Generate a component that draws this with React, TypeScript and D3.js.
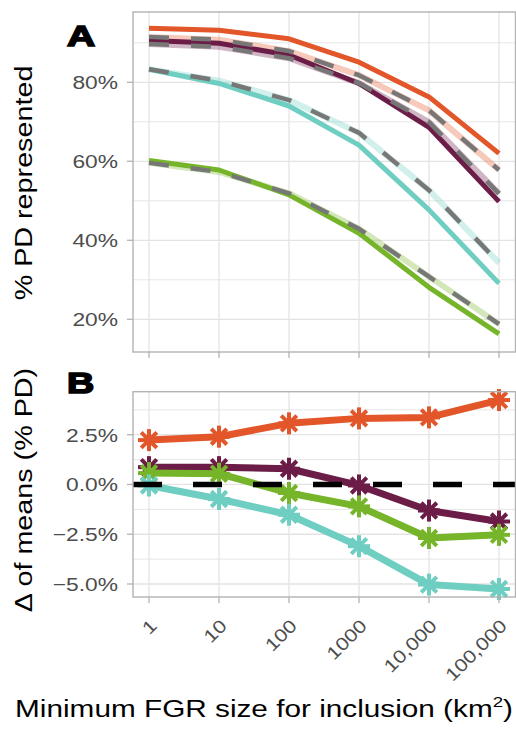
import React from "react";
import * as d3 from "d3";

// ---- data ----
const sizes = [1, 10, 100, 1000, 10000, 100000];
const sizeLabels = ["1", "10", "100", "1000", "10,000", "100,000"];

const seriesNames = ["orange", "purple", "teal", "green"];
const seriesColors = ["#E2562A", "#6B1C47", "#6FCEC2", "#76B52A"];

// Panel A: observed (solid) lines
const orangeObs = [93.7, 93.2, 91.0, 85.1, 76.3, 62.0];
const purpleObs = [90.6, 89.9, 86.9, 79.7, 68.6, 49.8];
const tealObs = [83.3, 79.7, 74.0, 64.1, 47.7, 29.1];
const greenObs = [60.2, 57.8, 51.5, 41.8, 28.1, 16.3];

// Panel A: expected (pale + grey dashed) lines
const orangeNull = [91.5, 90.8, 87.9, 81.8, 72.9, 57.8];
const purpleNull = [89.7, 89.0, 86.1, 79.8, 69.9, 51.8];
const tealNull = [83.3, 80.4, 75.5, 67.2, 52.7, 34.3];
const greenNull = [59.6, 57.3, 51.9, 42.9, 30.8, 18.8];

// Panel B: difference of means
const orangeDelta = [2.23, 2.4, 3.07, 3.32, 3.37, 4.24];
const purpleDelta = [0.87, 0.87, 0.79, -0.05, -1.31, -1.86];
const tealDelta = [-0.05, -0.73, -1.52, -3.1, -5.03, -5.25];
const greenDelta = [0.57, 0.54, -0.43, -1.1, -2.69, -2.53];

const yTicksA = [20, 40, 60, 80];
const yMinorA = [30, 50, 70, 90];
const yTicksB = [-5, -2.5, 0, 2.5];
const yMinorB = [-3.75, -1.25, 1.25, 3.75];

const obsSeries = [orangeObs, purpleObs, tealObs, greenObs];
const nullSeries = [orangeNull, purpleNull, tealNull, greenNull];
const deltaSeries = [orangeDelta, purpleDelta, greenDelta, tealDelta];
const deltaColors = [seriesColors[0], seriesColors[1], seriesColors[3], seriesColors[2]];

// ---- layout ----
const W = 516;
const H = 732;
const PL = 133;
const PR = 515.5;
const A_TOP = 12;
const A_BOT = 352;
const B_TOP = 391.7;
const B_BOT = 597;

const FONT = "'Liberation Sans', Arial, Helvetica, sans-serif";
const GRID = "#E3E3E3";
const BORDER = "#B3B3B3";
const TICKTXT = "#4D4D4D";
const SX = 1.2;
const TFS = 19;

const x = d3.scaleLog().domain([1, 100000]).range([149, 499]);
const yA = d3.scaleLinear().domain([20, 80]).range([319.3, 82.3]);
const yB = d3.scaleLinear().domain([-5, 2.5]).range([584, 434.7]);

const fmtPct = (v: number) => `${v}%`;
const fmtB = (v: number) => (v < 0 ? "\u2212" : "") + Math.abs(v).toFixed(1) + "%";

function Asterisk({ cx, cy, color }: { cx: number; cy: number; color: string }) {
  const r = 11;
  const d = r * Math.SQRT1_2;
  return (
    <g stroke={color} strokeWidth={4} strokeLinecap="butt">
      <line x1={cx} y1={cy - r} x2={cx} y2={cy + r} />
      <line x1={cx - r} y1={cy} x2={cx + r} y2={cy} />
      <line x1={cx - d} y1={cy - d} x2={cx + d} y2={cy + d} />
      <line x1={cx - d} y1={cy + d} x2={cx + d} y2={cy - d} />
    </g>
  );
}

export default function App() {
  const lineA = (vals: number[]) =>
    d3
      .line<number>()
      .x((_, i) => x(sizes[i]))
      .y((v) => yA(v))(vals) as string;
  const lineB = (vals: number[]) =>
    d3
      .line<number>()
      .x((_, i) => x(sizes[i]))
      .y((v) => yB(v))(vals) as string;

  const vGrid = (top: number, bot: number) =>
    sizes.map((s, i) => (
      <line key={"v" + i} x1={x(s)} x2={x(s)} y1={top} y2={bot} stroke={GRID} strokeWidth={1.3} />
    ));

  return (
    <svg
      width={W}
      height={H}
      viewBox={`0 0 ${W} ${H}`}
      style={{ position: "absolute", left: 0, top: 0, background: "#fff" }}
      fontFamily={FONT}
    >
      <rect x={0} y={0} width={W} height={H} fill="#fff" />

      {/* ---------- Panel A ---------- */}
      <g>
        {yMinorA.map((v) => (
          <line key={"am" + v} x1={PL} x2={PR} y1={yA(v)} y2={yA(v)} stroke={GRID} strokeWidth={0.9} />
        ))}
        {yTicksA.map((v) => (
          <line key={"aM" + v} x1={PL} x2={PR} y1={yA(v)} y2={yA(v)} stroke={GRID} strokeWidth={1.3} />
        ))}
        {vGrid(A_TOP, A_BOT)}

        {nullSeries.map((vals, i) => (
          <path
            key={"pale" + i}
            d={lineA(vals)}
            fill="none"
            stroke={seriesColors[i]}
            strokeOpacity={0.32}
            strokeWidth={6}
            strokeLinejoin="round"
          />
        ))}
        {obsSeries.map((vals, i) => (
          <path
            key={"obs" + i}
            d={lineA(vals)}
            fill="none"
            stroke={seriesColors[i]}
            strokeWidth={5}
            strokeLinejoin="round"
          />
        ))}
        {nullSeries.map((vals, i) => (
          <path
            key={"dash" + i}
            d={lineA(vals)}
            fill="none"
            stroke="#777777"
            strokeWidth={4.5}
            strokeDasharray="20 22"
            strokeLinejoin="round"
          />
        ))}

        <rect x={PL} y={A_TOP} width={PR - PL} height={A_BOT - A_TOP} fill="none" stroke={BORDER} strokeWidth={1.4} />

        {yTicksA.map((v) => (
          <g key={"at" + v}>
            <line x1={PL - 6} x2={PL} y1={yA(v)} y2={yA(v)} stroke={BORDER} strokeWidth={1.3} />
            <text
              transform={`translate(118,${yA(v) + 6.8}) scale(${SX},1)`}
              textAnchor="end"
              fontSize={TFS}
              fill={TICKTXT}
            >
              {fmtPct(v)}
            </text>
          </g>
        ))}
        {sizes.map((s, i) => (
          <line key={"axt" + i} x1={x(s)} x2={x(s)} y1={A_BOT} y2={A_BOT + 6} stroke={BORDER} strokeWidth={1.3} />
        ))}

        <text
          transform={`translate(67,46) scale(1.3,1)`}
          fontSize={30}
          fontWeight="bold"
          fill="#000"
          stroke="#000"
          strokeWidth={1.6}
        >
          A
        </text>

        <text
          transform={`translate(32,183) rotate(-90) scale(1.25,1)`}
          textAnchor="middle"
          fontSize={23}
          fill="#000"
        >
          % PD represented
        </text>
      </g>

      {/* ---------- Panel B ---------- */}
      <g>
        {yMinorB.map((v) => (
          <line key={"bm" + v} x1={PL} x2={PR} y1={yB(v)} y2={yB(v)} stroke={GRID} strokeWidth={0.9} />
        ))}
        {yTicksB.map((v) => (
          <line key={"bM" + v} x1={PL} x2={PR} y1={yB(v)} y2={yB(v)} stroke={GRID} strokeWidth={1.3} />
        ))}
        {vGrid(B_TOP, B_BOT)}

        {deltaSeries.map((vals, i) => (
          <g key={"delta" + i}>
            <path d={lineB(vals)} fill="none" stroke={deltaColors[i]} strokeWidth={7} strokeLinejoin="round" />
            {vals.map((v, j) => (
              <Asterisk key={j} cx={x(sizes[j])} cy={yB(v)} color={deltaColors[i]} />
            ))}
          </g>
        ))}

        <line
          x1={PL}
          x2={PR}
          y1={yB(0)}
          y2={yB(0)}
          stroke="#000"
          strokeWidth={5.5}
          strokeDasharray="29 31"
        />

        <rect x={PL} y={B_TOP} width={PR - PL} height={B_BOT - B_TOP} fill="none" stroke={BORDER} strokeWidth={1.4} />

        {yTicksB.map((v) => (
          <g key={"bt" + v}>
            <line x1={PL - 6} x2={PL} y1={yB(v)} y2={yB(v)} stroke={BORDER} strokeWidth={1.3} />
            <text
              transform={`translate(118,${yB(v) + 6.8}) scale(${SX},1)`}
              textAnchor="end"
              fontSize={TFS}
              fill={TICKTXT}
            >
              {fmtB(v)}
            </text>
          </g>
        ))}

        {sizes.map((s, i) => (
          <g key={"bxt" + i}>
            <line x1={x(s)} x2={x(s)} y1={B_BOT} y2={B_BOT + 6} stroke={BORDER} strokeWidth={1.3} />
            <text
              transform={`translate(${x(s) + 9},627) rotate(-45) scale(${SX},1)`}
              textAnchor="end"
              fontSize={18}
              fill={TICKTXT}
            >
              {sizeLabels[i]}
            </text>
          </g>
        ))}

        <text
          transform={`translate(67,393) scale(1.3,1)`}
          fontSize={29}
          fontWeight="bold"
          fill="#000"
          stroke="#000"
          strokeWidth={1.6}
        >
          B
        </text>

        <text
          transform={`translate(32,490) rotate(-90) scale(1.25,1)`}
          textAnchor="middle"
          fontSize={23}
          fill="#000"
        >
          {"\u0394 of means (% PD)"}
        </text>
      </g>

      {/* x-axis title */}
      <text transform={`translate(264,717) scale(1.24,1)`} textAnchor="middle" fontSize={24} fill="#000">
        <tspan>Minimum FGR size for inclusion (km</tspan>
        <tspan fontSize={15} dy={-10}>
          2
        </tspan>
        <tspan dy={10}>)</tspan>
      </text>
    </svg>
  );
}
